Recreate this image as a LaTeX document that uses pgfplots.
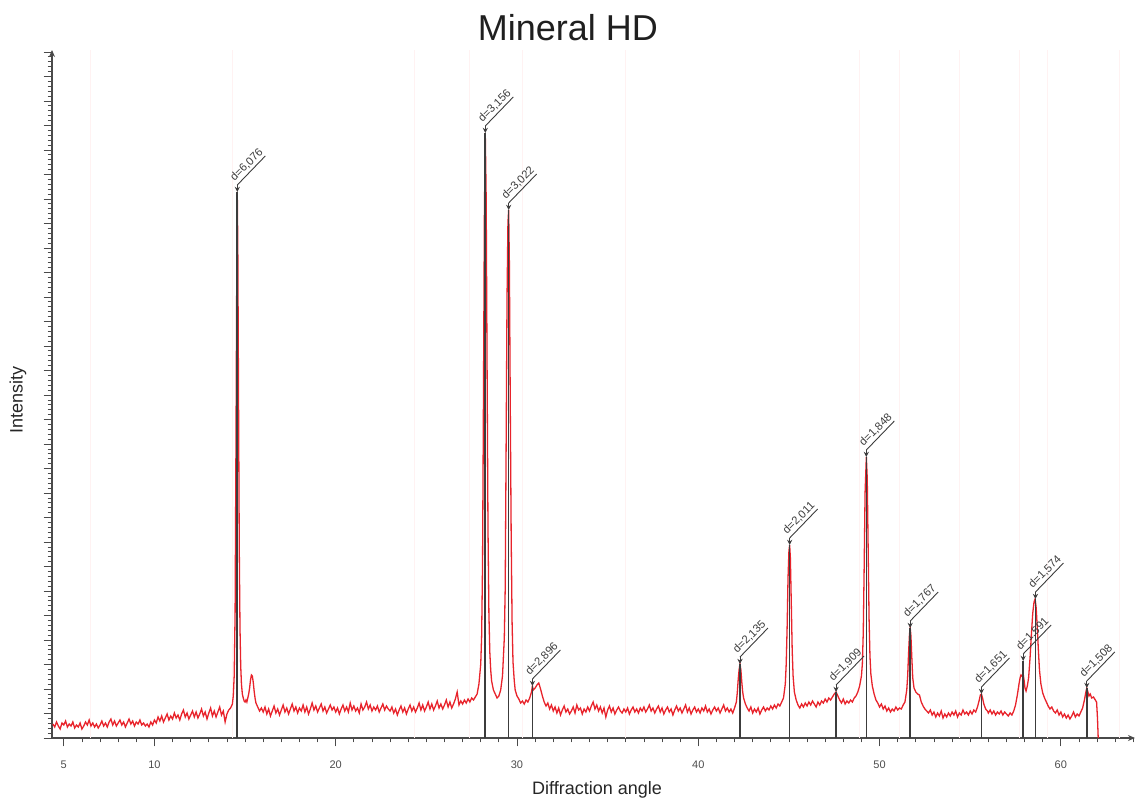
\documentclass[border=0pt]{standalone}
\usepackage{pgfplots}
\pgfplotsset{compat=1.18}
\usepackage{pgfplotstable}
\usepackage{fontspec}
\setmainfont{Liberation Sans}
\usetikzlibrary{arrows.meta}
\definecolor{xrdred}{HTML}{E8232B}
\definecolor{pkgray}{HTML}{3C3C3C}
\definecolor{axgray}{HTML}{4A4A4A}

\pgfplotstableread{
x y
4.4 14
4.5 11
4.6 16
4.7 12
4.8 9
4.9 15
5.0 13
5.1 17
5.2 11
5.3 14
5.4 12
5.5 16
5.6 10
5.7 13
5.8 11
5.9 15
6.0 9
6.1 12
6.2 16
6.3 13
6.4 18
6.5 12
6.6 15
6.7 11
6.8 14
6.9 10
7.0 13
7.1 17
7.2 12
7.3 15
7.4 11
7.5 16
7.6 19
7.7 13
7.8 17
7.9 12
8.0 15
8.1 18
8.2 13
8.3 16
8.4 11
8.5 15
8.6 19
8.7 14
8.8 17
8.9 12
9.0 16
9.1 14
9.2 18
9.3 13
9.4 15
9.5 12
9.6 14
9.7 11
9.8 16
9.9 13
10.0 18
10.1 15
10.2 21
10.3 17
10.4 22
10.5 16
10.6 20
10.7 24
10.8 18
10.9 22
11.0 19
11.1 25
11.2 20
11.3 23
11.4 18
11.5 24
11.6 28
11.7 21
11.8 25
11.9 19
12.0 23
12.1 27
12.2 21
12.3 26
12.4 20
12.5 24
12.6 29
12.7 22
12.8 26
12.9 19
13.0 25
13.1 30
13.2 22
13.3 27
13.4 21
13.5 26
13.6 31
13.7 23
13.8 27
13.9 16
14.0 24
14.1 28
14.2 30
14.3 34
14.35 42
14.4 62
14.45 125
14.5 300
14.54 460
14.57 546
14.6 490
14.64 340
14.68 190
14.72 110
14.76 72
14.8 54
14.85 44
14.9 40
14.95 37
15.0 36
15.05 38
15.1 36
15.15 40
15.2 44
15.25 50
15.3 58
15.35 63
15.4 62
15.45 56
15.5 47
15.55 40
15.6 35
15.7 31
15.8 27
15.9 30
16.0 26
16.1 31
16.2 24
16.3 29
16.4 22
16.5 27
16.6 32
16.7 25
16.8 29
16.9 23
17.0 28
17.1 33
17.2 26
17.3 30
17.4 24
17.5 29
17.6 34
17.7 27
17.8 31
17.9 25
18.0 30
18.1 27
18.2 33
18.3 26
18.4 31
18.5 24
18.6 29
18.7 35
18.8 28
18.9 32
19.0 26
19.1 30
19.2 34
19.3 27
19.4 31
19.5 25
19.6 29
19.7 33
19.8 28
19.9 31
20.0 26
20.1 30
20.2 24
20.3 29
20.4 33
20.5 27
20.6 31
20.7 26
20.8 35
20.9 28
21.0 32
21.1 27
21.2 30
21.3 25
21.4 34
21.5 28
21.6 31
21.7 36
21.8 29
21.9 33
22.0 27
22.1 31
22.2 28
22.3 32
22.4 26
22.5 30
22.6 34
22.7 28
22.8 32
22.9 29
23.0 27
23.1 31
23.2 25
23.3 29
23.4 23
23.5 28
23.6 32
23.7 26
23.8 30
23.9 24
24.0 29
24.1 33
24.2 27
24.3 31
24.4 26
24.5 30
24.6 35
24.7 28
24.8 33
24.9 27
25.0 31
25.1 36
25.2 29
25.3 34
25.4 28
25.5 32
25.6 37
25.7 30
25.8 34
25.9 29
26.0 33
26.1 38
26.2 31
26.3 36
26.4 30
26.5 34
26.6 39
26.7 46
26.8 33
26.9 37
27.0 34
27.1 38
27.2 35
27.3 39
27.4 36
27.5 40
27.6 38
27.7 41
27.8 44
27.9 54
28.0 74
28.05 102
28.1 175
28.15 340
28.2 520
28.25 605
28.3 540
28.35 370
28.4 210
28.45 125
28.5 86
28.55 68
28.6 57
28.7 48
28.8 44
28.9 40
29.0 42
29.1 48
29.2 62
29.3 100
29.35 150
29.4 290
29.45 440
29.5 515
29.54 528
29.58 475
29.63 330
29.68 200
29.73 115
29.78 76
29.85 57
29.9 48
30.0 42
30.1 39
30.2 35
30.3 37
30.4 34
30.5 38
30.6 36
30.7 40
30.8 46
30.85 52
30.9 48
31.0 50
31.1 53
31.2 55
31.3 49
31.4 42
31.5 36
31.6 32
31.7 35
31.8 29
31.9 33
32.0 27
32.1 31
32.2 25
32.3 30
32.4 23
32.5 28
32.6 32
32.7 26
32.8 29
32.9 24
33.0 27
33.1 31
33.2 25
33.3 33
33.4 28
33.5 30
33.6 24
33.7 29
33.8 26
33.9 31
34.0 27
34.1 32
34.2 36
34.3 29
34.4 33
34.5 27
34.6 31
34.7 25
34.8 30
34.9 21
35.0 28
35.1 32
35.2 26
35.3 30
35.4 24
35.5 28
35.6 31
35.7 27
35.8 25
35.9 29
36.0 26
36.1 30
36.2 24
36.3 28
36.4 31
36.5 26
36.6 29
36.7 25
36.8 30
36.9 27
37.0 31
37.1 26
37.2 29
37.3 33
37.4 27
37.5 30
37.6 25
37.7 29
37.8 32
37.9 26
38.0 30
38.1 24
38.2 28
38.3 31
38.4 26
38.5 29
38.6 23
38.7 28
38.8 32
38.9 27
39.0 30
39.1 25
39.2 29
39.3 33
39.4 26
39.5 30
39.6 24
39.7 28
39.8 31
39.9 26
40.0 29
40.1 25
40.2 30
40.3 27
40.4 32
40.5 26
40.6 29
40.7 24
40.8 28
40.9 31
41.0 27
41.1 30
41.2 25
41.3 29
41.4 33
41.5 27
41.6 30
41.7 26
41.8 29
41.9 25
42.0 30
42.1 36
42.15 45
42.2 58
42.25 68
42.3 74
42.35 68
42.4 56
42.45 46
42.5 40
42.6 34
42.7 30
42.8 27
42.9 31
43.0 25
43.1 29
43.2 26
43.3 30
43.4 24
43.5 28
43.6 31
43.7 27
43.8 30
43.9 28
44.0 32
44.1 29
44.2 33
44.3 30
44.4 34
44.5 32
44.6 36
44.7 40
44.8 54
44.85 74
44.9 110
44.95 160
45.0 187
45.04 193
45.08 180
45.13 135
45.18 88
45.23 62
45.3 46
45.4 38
45.5 33
45.6 30
45.7 34
45.8 31
45.9 35
46.0 32
46.1 36
46.2 33
46.3 37
46.4 34
46.5 31
46.6 36
46.7 33
46.8 37
46.9 35
47.0 39
47.1 36
47.2 40
47.3 38
47.4 41
47.5 44
47.6 46
47.7 42
47.8 38
47.9 35
48.0 39
48.1 34
48.2 37
48.3 35
48.4 38
48.5 36
48.6 40
48.7 42
48.8 46
48.9 52
49.0 62
49.05 74
49.1 105
49.15 170
49.2 245
49.27 281
49.32 260
49.37 190
49.42 120
49.47 82
49.52 64
49.6 52
49.7 44
49.8 38
49.9 35
50.0 31
50.1 34
50.2 29
50.3 32
50.4 27
50.5 30
50.6 26
50.7 29
50.8 27
50.9 31
51.0 28
51.1 30
51.2 29
51.3 33
51.4 36
51.5 48
51.55 62
51.6 85
51.65 104
51.69 110
51.73 102
51.78 80
51.83 60
51.9 50
52.0 46
52.1 44
52.2 43
52.3 36
52.4 32
52.5 29
52.6 27
52.7 25
52.8 28
52.9 23
53.0 26
53.1 21
53.2 25
53.3 22
53.4 27
53.5 20
53.6 24
53.7 21
53.8 25
53.9 22
54.0 26
54.1 23
54.2 27
54.3 21
54.4 25
54.5 23
54.6 28
54.7 24
54.8 26
54.9 23
55.0 27
55.1 24
55.2 28
55.3 26
55.4 31
55.5 38
55.56 43
55.62 44
55.68 40
55.75 34
55.85 29
55.95 27
56.0 25
56.1 28
56.2 24
56.3 27
56.4 23
56.5 26
56.6 24
56.7 27
56.8 23
56.9 26
57.0 24
57.1 22
57.2 25
57.3 23
57.4 27
57.5 33
57.6 43
57.7 55
57.75 60
57.8 63
57.85 62
57.92 64
57.97 58
58.02 50
58.08 47
58.15 52
58.22 60
58.3 80
58.38 105
58.45 125
58.52 136
58.58 139
58.64 130
58.7 110
58.76 88
58.82 68
58.9 54
59.0 45
59.1 40
59.2 36
59.3 32
59.4 29
59.5 31
59.6 27
59.7 25
59.8 28
59.9 23
60.0 26
60.1 21
60.2 24
60.3 20
60.4 23
60.5 19
60.6 22
60.7 26
60.8 21
60.9 24
61.0 22
61.1 26
61.2 30
61.3 38
61.38 46
61.43 50
61.48 47
61.55 42
61.62 44
61.7 40
61.8 41
61.9 38
61.97 36
62.02 20
62.06 0
}\redtab

\pgfplotstableread{
x y
14.57 546
28.25 605
29.54 528
30.85 52
42.30 74
45.04 193
47.60 46
49.27 281
51.69 110
55.62 44
57.92 77
58.60 139
61.43 50
}\peaktab

\pgfplotstableread{
x y
6.45 688
14.33 688
24.37 688
27.40 688
30.33 688
35.96 688
48.92 688
51.12 688
54.43 688
57.74 688
59.29 688
63.26 688
}\faintab

\newcommand{\dlab}[3]{%
  \draw[pkgray, line width=0.45pt] ([yshift=3.5pt]axis cs:#1,#2) -- ++(14pt,14.5pt);
  \draw[pkgray, line width=0.45pt, -{Stealth[length=2.6pt,width=2.6pt]}] ([yshift=3.6pt]axis cs:#1,#2) -- (axis cs:#1,#2);
  \node[rotate=45, anchor=south west, inner sep=0.4pt, text=pkgray, font=\fontsize{5.6}{6}\selectfont] at ([xshift=-0.8pt,yshift=3.8pt]axis cs:#1,#2) {d=#3};
}

\begin{document}
\begin{tikzpicture}
\begin{axis}[
  name=ax,
  scale only axis,
  width=541.5pt, height=344pt,
  xmin=4.35, xmax=64.09,
  ymin=0, ymax=688,
  axis lines=left,
  axis line style={axgray, line width=0.6pt, -{Stealth[length=3.5pt,width=3pt]}},
  tick align=outside,
  tick style={axgray, line width=0.4pt},
  major tick length=4.2pt,
  minor tick length=2.2pt,
  xtick={5,10,20,30,40,50,60},
  minor xtick={5,6,...,64},
  ytick={0,24.5,...,688},
  minor y tick num=4,
  yticklabels={},
  /pgf/number format/assume math mode=true,
  xticklabel style={font=\fontsize{5.5}{6}\selectfont, text=black!70, yshift=-3.5pt},
  clip=false,
]
\addplot[red!5, line width=0.5pt, ycomb, mark=none] table[x=x,y=y] {\faintab};
\addplot[xrdred, line width=0.65pt, mark=none] table[x=x,y=y] {\redtab};
\addplot[pkgray, line width=0.8pt, ycomb, mark=none] table[x=x,y=y] {\peaktab};
\dlab{14.57}{546}{6,076}
\dlab{28.25}{605}{3,156}
\dlab{29.54}{528}{3,022}
\dlab{30.85}{52}{2,896}
\dlab{42.30}{74}{2,135}
\dlab{45.04}{193}{2,011}
\dlab{47.60}{46}{1,909}
\dlab{49.27}{281}{1,848}
\dlab{51.69}{110}{1,767}
\dlab{55.62}{44}{1,651}
\dlab{57.92}{77}{1,591}
\dlab{58.60}{139}{1,574}
\dlab{61.43}{50}{1,508}
\end{axis}
\node[font=\fontsize{18}{20}\selectfont, text=black!88] at ([xshift=258pt,yshift=355pt]ax.south west) {Mineral HD};
\node[font=\fontsize{9}{10}\selectfont, text=black!85, rotate=90] at ([xshift=-17pt,yshift=169pt]ax.south west) {Intensity};
\node[font=\fontsize{9}{10}\selectfont, text=black!85] at ([xshift=272.5pt,yshift=-26pt]ax.south west) {Diffraction angle};
\pgfresetboundingbox
\path[use as bounding box] ([xshift=-26pt,yshift=-31pt]ax.south west) rectangle ++(568.5pt,400pt);
\end{tikzpicture}
\end{document}
